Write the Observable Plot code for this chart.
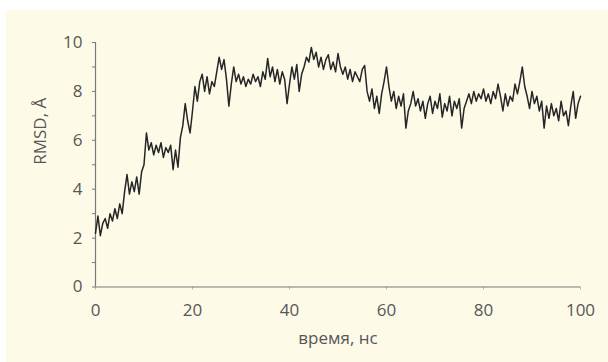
<!DOCTYPE html>
<html>
<head>
<meta charset="utf-8">
<script src="https://cdn.jsdelivr.net/npm/d3@7"></script>
<script src="https://cdn.jsdelivr.net/npm/@observablehq/plot@0.6"></script>
<style>
  html, body { margin: 0; padding: 0; background: #ffffff; }
  #chart { position: absolute; left: 6px; top: 10px; width: 602px; height: 352px; background: #fdfae8; }
  #chart svg { background: transparent; }
</style>
</head>
<body>
<div id="chart"></div>
<script>
// RMSD (Å) sampled every 0.5 ns from 0 to 100 ns
const timeStep = 0.5;
const rmsd = [
  2.2, 2.9, 2.1, 2.6, 2.8, 2.4, 3.0, 2.7, 3.2, 2.8,
  3.4, 3.0, 3.9, 4.6, 3.8, 4.3, 3.9, 4.5, 3.8, 4.7,
  5.0, 6.3, 5.6, 5.9, 5.4, 5.8, 5.5, 5.9, 5.3, 5.7,
  5.5, 5.8, 4.8, 5.6, 4.9, 6.1, 6.6, 7.5, 6.8, 6.3,
  7.2, 8.2, 7.6, 8.4, 8.7, 8.0, 8.6, 7.9, 8.4, 8.2,
  8.8, 9.4, 8.9, 9.3, 8.5, 7.4, 8.3, 9.0, 8.4, 8.7,
  8.3, 8.6, 8.2, 8.5, 8.3, 8.7, 8.4, 8.6, 8.2, 8.8,
  8.5, 9.35, 8.6, 9.0, 8.4, 8.9, 8.3, 8.8, 8.5, 7.5,
  8.3, 9.0, 8.5, 9.1, 8.0, 8.7, 9.0, 9.4, 9.2, 9.8,
  9.3, 9.6, 9.0, 9.4, 8.9, 9.3, 9.5, 8.9, 9.2, 8.8,
  9.55, 9.0, 8.7, 9.0, 8.5, 8.9, 8.4, 8.8, 8.6, 8.4,
  8.9, 9.06, 8.0, 7.6, 8.1, 7.3, 7.8, 7.1, 7.9, 8.4,
  9.0, 8.2, 7.6, 8.0, 7.3, 7.8, 7.4, 7.9, 6.5, 7.2,
  7.5, 8.0, 7.4, 7.7, 7.2, 7.6, 6.9, 7.5, 7.8, 7.1,
  7.6, 7.3, 7.9, 6.95, 7.5, 7.2, 7.8, 7.0, 7.6, 7.3,
  7.7, 6.5, 7.3, 7.6, 7.9, 7.5, 8.0, 7.6, 7.9, 7.7,
  8.1, 7.6, 7.9, 7.5, 8.0, 7.7, 8.3, 7.8, 7.2, 7.9,
  7.4, 7.8, 7.6, 8.3, 7.9, 8.4, 9.0, 8.2, 7.8, 7.3,
  8.0, 7.5, 7.8, 7.2, 7.6, 6.5, 7.4, 6.9, 7.5, 7.0,
  7.3, 6.8, 7.6, 7.0, 7.2, 6.6, 7.4, 8.0, 6.9, 7.5,
  7.8
];
const xTicks = [0, 20, 40, 60, 80, 100];
const yTicks = [0, 2, 4, 6, 8, 10];
const yMinorTicks = [1, 3, 5, 7, 9];
const xLabel = "время, нс";
const yLabel = "RMSD, Å";

const data = rmsd.map((v, i) => ({t: i * timeStep, v}));

const textColor = "#575757";
const axisColor = "#7a7a7a";

const chart = Plot.plot({
  width: 602,
  height: 352,
  marginLeft: 89,
  marginRight: 28,
  marginTop: 32,
  marginBottom: 75.5,
  style: {fontFamily: "'Open Sans', sans-serif", fontSize: "17px", color: textColor, background: "transparent"},
  x: {domain: [0, 100]},
  y: {domain: [0, 10]},
  marks: [
    Plot.axisY(yMinorTicks, {tickSize: 3, text: null, stroke: axisColor, label: null}),
    Plot.axisY(yTicks, {tickSize: 3, tickPadding: 10, stroke: axisColor, fill: textColor, label: null}),
    Plot.axisX(xTicks, {tickSize: 3, tickPadding: 14, stroke: axisColor, strokeOpacity: 0.5, fill: textColor, label: null}),
    Plot.ruleX([0], {stroke: axisColor, strokeWidth: 1.2}),
    Plot.ruleY([0], {stroke: axisColor, strokeWidth: 1.2}),
    Plot.line(data, {x: "t", y: "v", stroke: "#262626", strokeWidth: 1.5}),
    Plot.text([yLabel], {frameAnchor: "left", rotate: -90, dx: -55, fill: textColor, fontSize: 17}),
    Plot.text([xLabel], {frameAnchor: "bottom", dy: 56.5, fill: textColor, fontSize: 17})
  ]
});
document.getElementById("chart").appendChild(chart);
</script>
</body>
</html>
